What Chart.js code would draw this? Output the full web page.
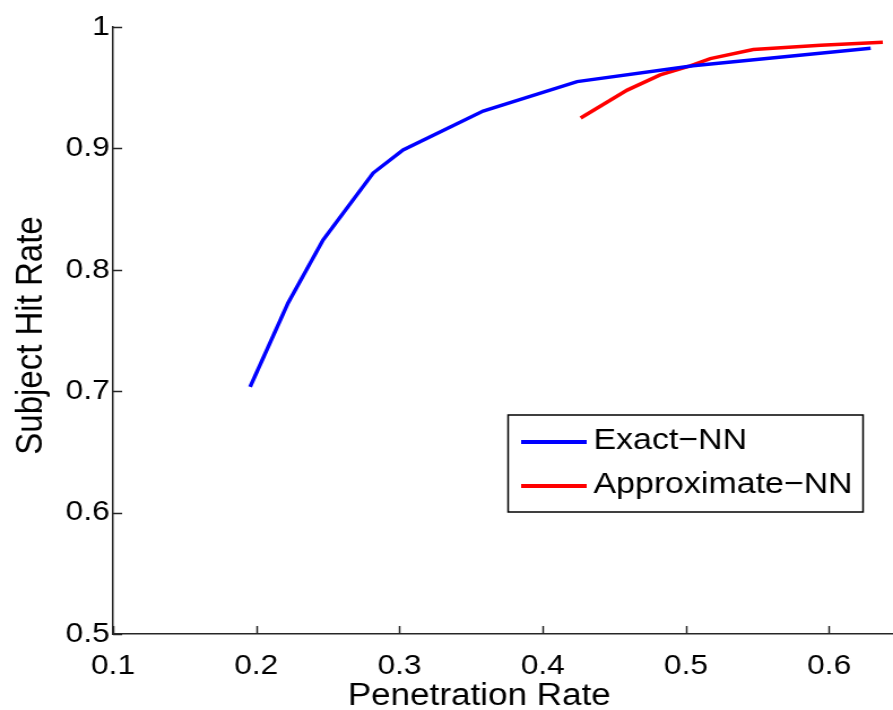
<!DOCTYPE html>
<html>
<head>
<meta charset="utf-8">
<script src="https://cdn.jsdelivr.net/npm/chart.js@4"></script>
<style>
  html, body { margin: 0; padding: 0; background: #fff; overflow: hidden; }
  #wrap { width: 790px; height: 710px; transform: scaleX(1.1304); transform-origin: 0 0; }
</style>
</head>
<body>
<div id="wrap"><canvas id="c" width="790" height="710"></canvas></div>
<script>
// ---- data ----
const seriesNames = ['Exact\u2212NN', 'Approximate\u2212NN'];
const exactX = [0.1957, 0.2222, 0.2466, 0.2816, 0.3025, 0.3584, 0.424, 0.505, 0.629];
const exactY = [0.7035, 0.7727, 0.8245, 0.8797, 0.8987, 0.9308, 0.955, 0.968, 0.9825];
const approxX = [0.4265, 0.459, 0.482, 0.503, 0.517, 0.547, 0.594, 0.6375];
const approxY = [0.925, 0.948, 0.9605, 0.968, 0.974, 0.9815, 0.985, 0.9875];
const xTicks = [0.1, 0.2, 0.3, 0.4, 0.5, 0.6];
const xTickLabels = ['0.1', '0.2', '0.3', '0.4', '0.5', '0.6'];
const yTicks = [0.5, 0.6, 0.7, 0.8, 0.9, 1];
const yTickLabels = ['0.5', '0.6', '0.7', '0.8', '0.9', '1'];
const xTitle = 'Penetration Rate';
const yTitle = 'Subject Hit Rate';

const toPts = (xs, ys) => xs.map((x, i) => ({ x: x, y: ys[i] }));
const AXIS = '#262626';
const FONT = "'Liberation Sans', Arial, Helvetica, sans-serif";

const inwardTicks = {
  id: 'inwardTicks',
  afterDraw(chart) {
    const { ctx, chartArea: a, scales: { x, y } } = chart;
    ctx.save();
    ctx.strokeStyle = AXIS;
    ctx.lineWidth = 1.5;
    ctx.beginPath();
    yTicks.forEach(v => {
      const p = Math.round(y.getPixelForValue(v)) + 0.5;
      ctx.moveTo(a.left, p); ctx.lineTo(a.left + 8, p);
    });
    xTicks.forEach(v => {
      const p = Math.round(x.getPixelForValue(v)) + 0.5;
      ctx.moveTo(p, a.bottom); ctx.lineTo(p, a.bottom - 8);
    });
    ctx.stroke();
    ctx.restore();
  }
};

const axisTitles = {
  id: 'axisTitles',
  afterDraw(chart) {
    const ctx = chart.ctx;
    ctx.save();
    ctx.fillStyle = '#000';
    ctx.textAlign = 'center';
    ctx.textBaseline = 'alphabetic';
    ctx.font = '31px ' + FONT;
    ctx.fillText(xTitle, 424, 705);
    ctx.translate(37, 335.5);
    ctx.rotate(-Math.PI / 2);
    ctx.font = '33px ' + FONT;
    ctx.fillText(yTitle, 0, 0);
    ctx.restore();
  }
};

const boxLegend = {
  id: 'boxLegend',
  afterDatasetsDraw(chart) {
    const ctx = chart.ctx;
    const box = { x: 449.5, y: 415, w: 314, h: 97 };
    const rows = [442, 486];
    ctx.save();
    ctx.fillStyle = '#fff';
    ctx.fillRect(box.x, box.y, box.w, box.h);
    ctx.strokeStyle = '#000';
    ctx.lineWidth = 1.5;
    ctx.strokeRect(box.x, box.y, box.w, box.h);
    chart.data.datasets.forEach((ds, i) => {
      const ry = rows[i];
      ctx.strokeStyle = ds.borderColor;
      ctx.lineWidth = 4;
      ctx.beginPath();
      ctx.moveTo(461, ry); ctx.lineTo(519, ry);
      ctx.stroke();
      ctx.fillStyle = '#000';
      ctx.font = '30px ' + FONT;
      ctx.textBaseline = 'middle';
      ctx.textAlign = 'left';
      ctx.fillText(ds.label, 525, ry - 1);
    });
    ctx.restore();
  }
};

new Chart(document.getElementById('c'), {
  type: 'line',
  data: {
    datasets: [
      { label: seriesNames[0], data: toPts(exactX, exactY), borderColor: '#0000ff', borderWidth: 3.5, pointRadius: 0, tension: 0, fill: false },
      { label: seriesNames[1], data: toPts(approxX, approxY), borderColor: '#ff0000', borderWidth: 3.5, pointRadius: 0, tension: 0, fill: false }
    ]
  },
  options: {
    responsive: false,
    animation: false,
    devicePixelRatio: 1,
    layout: { padding: { top: 27, right: 0, bottom: 0, left: 0 } },
    plugins: { legend: { display: false }, tooltip: { enabled: false } },
    scales: {
      x: {
        type: 'linear',
        min: 0.1,
        max: 0.6446,
        afterBuildTicks: s => { s.ticks = xTicks.map(v => ({ value: v })); },
        afterFit: s => { s.height = 76; },
        grid: { display: false, drawTicks: false },
        border: { display: true, color: AXIS, width: 1.5 },
        ticks: {
          padding: 15,
          maxRotation: 0,
          autoSkip: false,
          color: '#000',
          font: { family: FONT, size: 28 },
          callback: (v) => { const i = xTicks.findIndex(t => Math.abs(t - v) < 1e-9); return i >= 0 ? xTickLabels[i] : ''; }
        },
        title: { display: false }
      },
      y: {
        type: 'linear',
        min: 0.5,
        max: 1,
        afterBuildTicks: s => { s.ticks = yTicks.map(v => ({ value: v })); },
        afterFit: s => { s.width = 100; },
        grid: { display: false, drawTicks: false },
        border: { display: true, color: AXIS, width: 1.5 },
        ticks: {
          padding: 3,
          autoSkip: false,
          color: '#000',
          font: { family: FONT, size: 28 },
          callback: (v) => { const i = yTicks.findIndex(t => Math.abs(t - v) < 1e-9); return i >= 0 ? yTickLabels[i] : ''; }
        },
        title: { display: false }
      }
    }
  },
  plugins: [inwardTicks, axisTitles, boxLegend]
});
</script>
</body>
</html>
